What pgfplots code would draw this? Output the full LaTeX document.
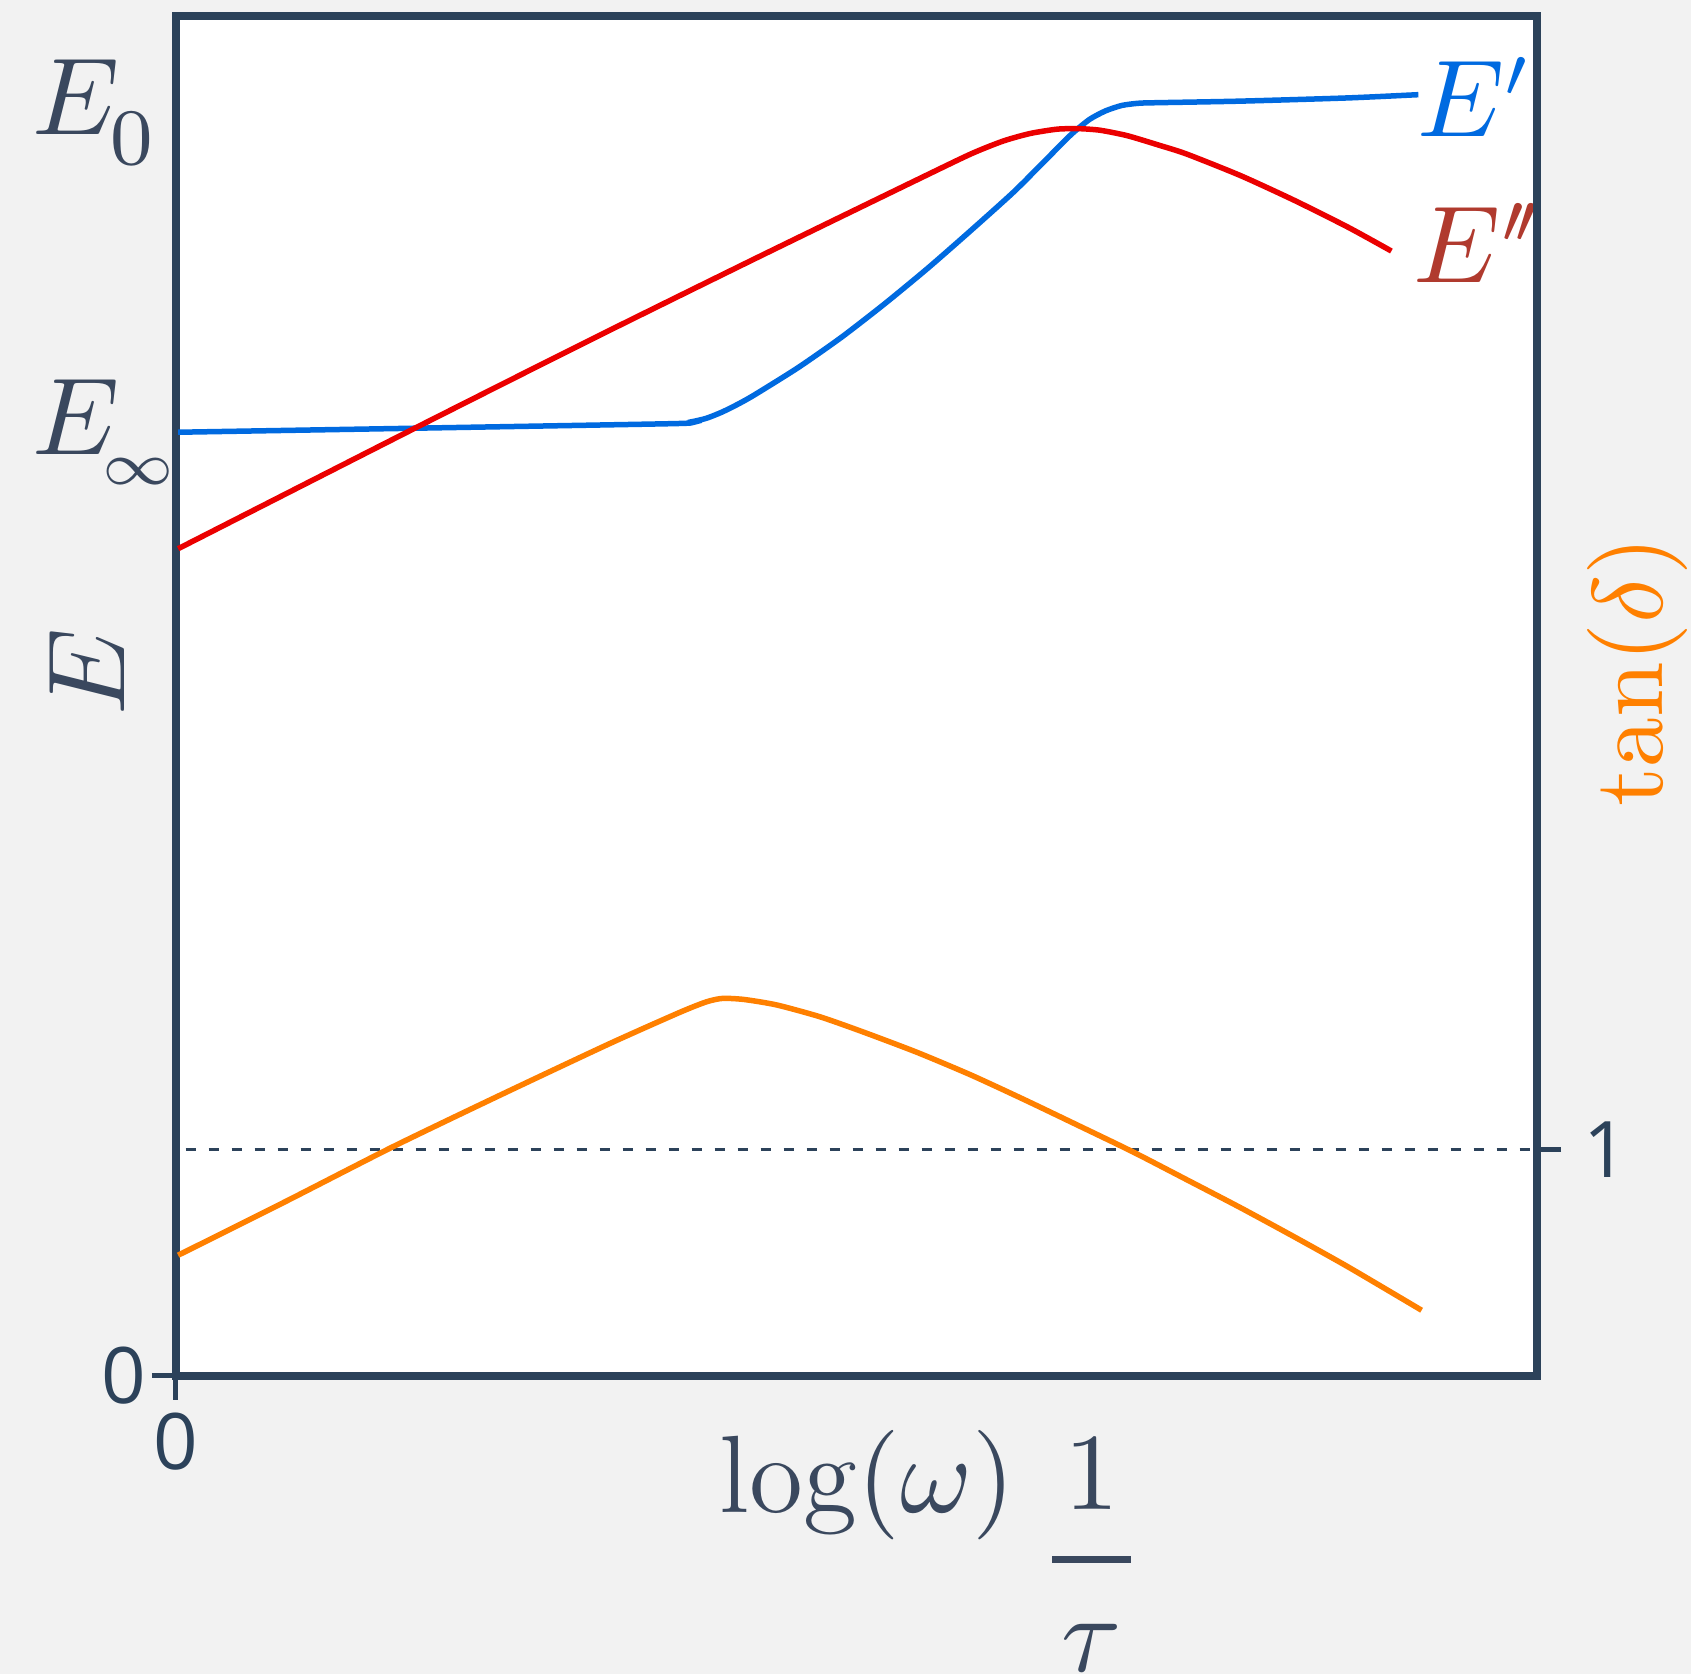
\documentclass[border=0pt]{standalone}
\usepackage{fontspec}
\usepackage{pgfplots}
\pgfplotsset{compat=1.18}
\newfontfamily\ticksans{Open Sans}

\definecolor{bggray}{HTML}{F2F2F2}
\definecolor{frame}{RGB}{44,66,90}
\definecolor{labtext}{RGB}{58,72,94}
\definecolor{storblue}{RGB}{0,106,224}
\definecolor{lossred}{RGB}{235,0,0}
\definecolor{lossredtxt}{RGB}{176,58,46}
\definecolor{tanorange}{RGB}{255,128,0}

% storage modulus E'
\pgfplotstableread{
x y
2 875
237 879
462 883
477 884.5
492 888
507 894
522 901.5
537 910
577 935
617 963
657 994
697 1027
737 1062
777 1098
807 1128
830 1151
847 1165
862 1173
877 1178
892 1180
907 1180.5
987 1182
1087 1185
1152 1188
}\storage

% loss modulus E''
\pgfplotstableread{
x y
2 767
222 879
387 962
537 1036
687 1109
737 1133
767 1145
792 1152
817 1156
837 1156.5
857 1155
882 1150
912 1141
937 1133
987 1113
1037 1090
1087 1065
1127 1043
}\loss

% tan(delta), right axis
\pgfplotstableread{
x y
2 0.533
102 0.771
202 1.014
302 1.243
402 1.467
467 1.605
492 1.652
507 1.667
527 1.662
557 1.638
597 1.586
637 1.519
687 1.429
737 1.329
787 1.219
837 1.105
887 0.990
937 0.867
987 0.743
1037 0.614
1087 0.481
1155 0.290
}\tandelta

% #1 kern, #2 size, #3 content
\newcommand\lowsub[3]{\kern#1\raisebox{-1.3pt}{\fontsize{#2}{9}\selectfont$#3$}}

\begin{document}
\begin{tikzpicture}
\fill[bggray] (-17.6pt,-29.8pt) rectangle (151.5pt,137.6pt);
\begin{axis}[
  at={(0,0)}, anchor=south west,
  width=136.1pt, height=136pt, scale only axis,
  xmin=0, xmax=1262, ymin=0, ymax=1261,
  axis background/.style={fill=white},
  axis line style={frame, line width=0.75pt},
  xtick={0}, xticklabels={\ticksans 0},
  ytick={0}, yticklabels={\ticksans 0},
  xtick pos=bottom, ytick pos=left,
  tick align=outside, major tick length=2.4pt,
  tick style={frame, line width=0.5pt},
  ticklabel style={text=frame, font=\fontsize{7.8}{9}\selectfont},
  xticklabel style={yshift=2.2pt},
  yticklabel style={xshift=2.9pt},
  ylabel={$E$},
  ylabel style={at={(axis description cs:-0.065,0.518)}, anchor=center,
    text=labtext, font=\fontsize{10.7}{12}\selectfont},
  clip=false,
]
\addplot[storblue, line width=0.55pt, smooth, tension=0.4] table {\storage};
\addplot[lossred, line width=0.55pt, smooth, tension=0.4] table {\loss};

\node[anchor=base west, inner sep=0, text=labtext, font=\fontsize{10.7}{12}\selectfont]
  at (axis cs:-135,1151) {$E_{\lowsub{-0.3pt}{7.6}{0}}$};
\node[anchor=base west, inner sep=0, text=labtext, font=\fontsize{10.7}{12}\selectfont]
  at (axis cs:-135,854) {$E_{\lowsub{-1.2pt}{6.2}{\infty}}$};
\node[anchor=base west, inner sep=0, text=storblue, font=\fontsize{10.7}{12}\selectfont]
  at (axis cs:1149,1149) {$E'$};
\node[anchor=base west, inner sep=0, text=lossredtxt, font=\fontsize{10.7}{12}\selectfont]
  at (axis cs:1146,1014) {$E^{\prime\mkern-2.2mu\prime}$};

\node[anchor=base, inner sep=0, text=labtext, font=\fontsize{11}{13}\selectfont]
  at (axis cs:641,-127) {$\log(\omega)$};
\node[anchor=base, inner sep=0, text=labtext, font=\fontsize{11}{13}\selectfont]
  at (axis cs:849,-124) {$1$};
\node[anchor=center, inner sep=0]
  at (axis cs:849,-170.6) {\textcolor{labtext}{\rule{7.9pt}{0.7pt}}};
\node[anchor=base, inner sep=0, text=labtext, font=\fontsize{11}{13}\selectfont]
  at (axis cs:849,-274) {$\tau$};
\end{axis}

\begin{axis}[
  at={(0,0)}, anchor=south west,
  width=136.1pt, height=136pt, scale only axis,
  xmin=0, xmax=1262, ymin=0, ymax=6.005,
  axis x line=none, axis y line*=right,
  axis line style={frame, line width=0.75pt, -},
  ytick={1}, yticklabels={\ticksans 1},
  tick align=outside, major tick length=2.4pt,
  tick style={frame, line width=0.5pt},
  ticklabel style={text=frame, font=\fontsize{7.8}{9}\selectfont},
  yticklabel style={xshift=-1.3pt},
  ylabel={$\tan(\delta)$},
  ylabel style={at={(axis description cs:1.0737,0.518)}, anchor=center,
    text=tanorange, font=\fontsize{10}{12}\selectfont},
  clip=false,
]
\addplot[frame, line width=0.28pt, dash pattern=on 1pt off 1.3pt] coordinates {(9,1) (1262,1)};
\addplot[tanorange, line width=0.55pt, smooth, tension=0.4] table {\tandelta};
\end{axis}
\pgfresetboundingbox
\path[use as bounding box] (-17.6pt,-29.8pt) rectangle (151.5pt,137.6pt);
\end{tikzpicture}
\end{document}
